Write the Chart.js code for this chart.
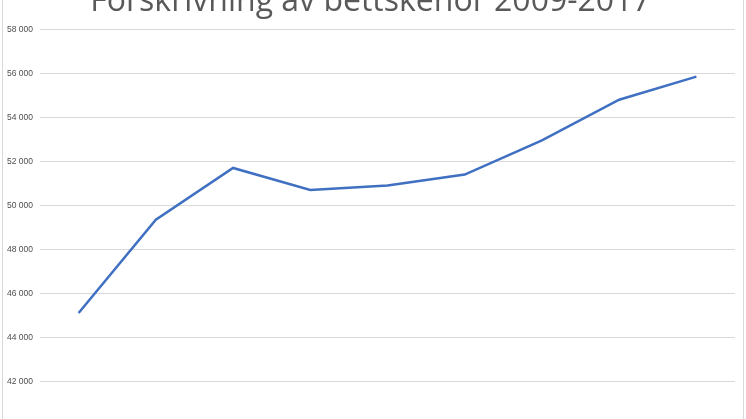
<!DOCTYPE html>
<html>
<head>
<meta charset="utf-8">
<script src="https://cdn.jsdelivr.net/npm/chart.js"></script>
<style>
  html, body { margin: 0; padding: 0; background: #fff; overflow: hidden; }
  body { width: 746px; height: 419px; position: relative; }
  .frame { position: absolute; left: 2px; top: -2px; width: 740px; height: 440px; border: 1px solid #d9d9d9; }
  .wrap { position: absolute; left: 0; top: -22px; width: 746px; height: 472px; }
</style>
</head>
<body>
<div class="frame"></div>
<div class="wrap"><canvas id="chart"></canvas></div>
<script>
const years = ["2009", "2010", "2011", "2012", "2013", "2014", "2015", "2016", "2017"];
const prescriptions = [45100, 49350, 51700, 50700, 50900, 51400, 52950, 54800, 55850];
const chartTitle = "Förskrivning av bettskenor 2009-2017";

function formatThousands(v) {
  return String(v).replace(/\B(?=(\d{3})+(?!\d))/g, " ");
}

document.addEventListener("DOMContentLoaded", function () {
  const canvas = document.getElementById("chart");
  new Chart(canvas.getContext("2d"), {
    type: "line",
    data: {
      labels: years,
      datasets: [{
        label: chartTitle,
        data: prescriptions,
        borderColor: "#4070c1",
        borderWidth: 2.5,
        pointRadius: 0,
        tension: 0,
        fill: false
      }]
    },
    options: {
      responsive: true,
      maintainAspectRatio: false,
      animation: false,
      layout: { padding: { left: 6, right: 11, top: 0, bottom: 0 } },
      plugins: {
        legend: { display: false },
        tooltip: { enabled: false },
        title: {
          display: true,
          text: chartTitle,
          color: "#595959",
          font: { family: "'Open Sans', sans-serif", size: 32, weight: "normal" },
          padding: { top: 5, bottom: 8 }
        }
      },
      scales: {
        x: {
          offset: true,
          grid: { display: false },
          border: { display: false },
          ticks: { color: "#595959", font: { size: 9 } }
        },
        y: {
          min: 40000,
          max: 58000,
          afterFit: function (scale) { scale.width = 34; },
          grid: { color: "#d9d9d9", drawTicks: false },
          border: { display: false },
          ticks: {
            stepSize: 2000,
            padding: 7,
            color: "#4d4d4d",
            font: { family: "'Liberation Sans', sans-serif", size: 8.5 },
            callback: function (v) { return formatThousands(v); }
          }
        }
      }
    }
  });
});
</script>
</body>
</html>
